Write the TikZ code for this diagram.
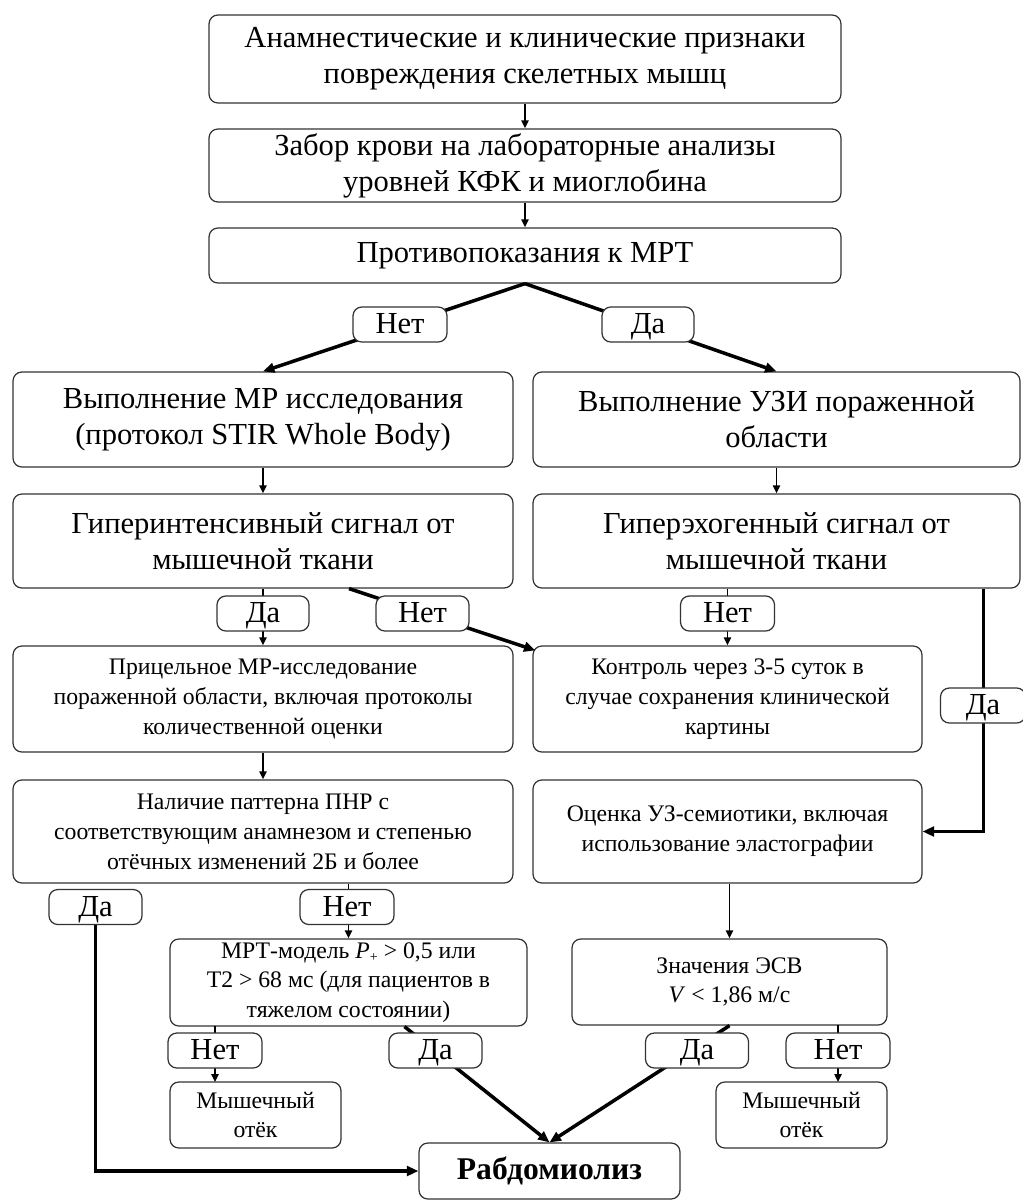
\documentclass[tikz,border=0pt]{standalone}
\usepackage{fontspec}
\setmainfont{Liberation Serif}
\usetikzlibrary{arrows.meta,calc}
\begin{document}
\begin{tikzpicture}[x=0.02cm,y=-0.02cm,
  box/.style={draw=black!80, rounded corners=5pt, line width=0.7pt, align=center, inner sep=0pt, fill=white},
  bigtxt/.style={font=\fontsize{17.4}{20.4}\selectfont},
  smalltxt/.style={font=\fontsize{13.5}{17}\selectfont},
  lbl/.style={box, bigtxt, minimum height=0.7cm, text height=11pt, text depth=0.5pt},
  thinarr/.style={draw=black, line width=1.1pt, -{Triangle[length=4.5pt,width=4pt]}},
  thickarr/.style={draw=black, line width=2pt, -{Triangle[length=6.5pt,width=5.5pt]}}
]
\useasboundingbox (0,0) rectangle (1022,1200);

% main boxes
\node[box,bigtxt,minimum width=12.64cm,minimum height=1.76cm] (b1) at (525,59)
  {Анамнестические и клинические признаки\\повреждения скелетных мышц};
\node[box,bigtxt,minimum width=12.64cm,minimum height=1.46cm] (b2) at (525,165.5)
  {Забор крови на лабораторные анализы\\уровней КФК и миоглобина};
\node[box,bigtxt,minimum width=12.64cm,minimum height=1.1cm] (b3) at (525,255.5)
  {Противопоказания к МРТ};
\node[box,bigtxt,minimum width=10cm,minimum height=1.9cm] (b4L) at (263,419.5)
  {Выполнение МР исследования\\(протокол STIR Whole Body)};
\node[box,bigtxt,minimum width=9.74cm,minimum height=1.9cm] (b4R) at (776.5,419.5)
  {Выполнение УЗИ пораженной\\области};
\node[box,bigtxt,minimum width=10cm,minimum height=1.88cm] (b5L) at (263,541)
  {Гиперинтенсивный сигнал от\\мышечной ткани};
\node[box,bigtxt,minimum width=9.74cm,minimum height=1.88cm] (b5R) at (776.5,541)
  {Гиперэхогенный сигнал от\\мышечной ткани};
\node[box,smalltxt,minimum width=10cm,minimum height=2.12cm] (b6L) at (263,699)
  {Прицельное МР-исследование\\пораженной области, включая протоколы\\количественной оценки};
\node[box,smalltxt,minimum width=7.78cm,minimum height=2.12cm] (b6R) at (727.5,699)
  {Контроль через 3-5 суток в\\случае сохранения клинической\\картины};
\node[box,smalltxt,minimum width=10cm,minimum height=2.06cm] (b7L) at (263,831.5)
  {Наличие паттерна ПНР с\\соответствующим анамнезом и степенью\\отёчных изменений 2Б и более};
\node[box,smalltxt,minimum width=7.78cm,minimum height=2.06cm] (b7R) at (727.5,831.5)
  {Оценка УЗ-семиотики, включая\\использование эластографии};
\node[box,smalltxt,minimum width=7.14cm,minimum height=1.74cm] (b8L) at (348.5,982.5)
  {МРТ-модель \textit{P}\raisebox{-0.35ex}{\footnotesize +} > 0,5 или\\Т2 > 68 мс (для пациентов в\\тяжелом состоянии)};
\node[box,smalltxt,minimum width=6.3cm,minimum height=1.72cm] (b8R) at (729.5,982)
  {Значения ЭСВ\\\textit{V} < 1,86 м/с};
\node[box,smalltxt,minimum width=3.42cm,minimum height=1.32cm] (b9L) at (255.5,1115)
  {Мышечный\\отёк};
\node[box,smalltxt,minimum width=3.42cm,minimum height=1.32cm] (b9R) at (801.5,1115)
  {Мышечный\\отёк};
\node[box,font=\fontsize{18}{20}\selectfont,minimum width=5.22cm,minimum height=1.12cm] (b10) at (549.5,1171)
  {\textbf{Рабдомиолиз}};

% helper coordinates
\coordinate (n5L) at ($(b5L.south)+(86,0)$);
\coordinate (t6R) at ($(b6R.north west)+(3,5)$);
\coordinate (vR) at ($(b5R.south east)+(-37,0)$);
\coordinate (s8L) at ($(b8L.south)+(56,0)$);
\coordinate (s9L) at (215,1026);
\coordinate (e9L) at (215,1082);
\coordinate (s9R) at (838,1025);
\coordinate (e9R) at (838,1082);

% connectors
\draw[thinarr] (b1.south) -- (b2.north);
\draw[thinarr] (b2.south) -- (b3.north);
\draw[thickarr] (b3.south) -- (b4L.north);
\draw[thickarr] (b3.south) -- (b4R.north);
\draw[thinarr] (b4L.south) -- (b5L.north);
\draw[thinarr] (b4R.south) -- (b5R.north);
\draw[thinarr] (b5L.south) -- (b6L.north);
\draw[thickarr] (n5L) -- (t6R);
\draw[thinarr] (b6R.north |- b5R.south) -- (b6R.north);
\draw[thickarr] (vR) |- (b7R.east);
\draw[thinarr] (b6L.south) -- (b7L.north);
\draw[thinarr] (b8L.north |- b7L.south) -- (b8L.north);
\draw[thinarr] (b8R.north |- b7R.south) -- (b8R.north);
\draw[thinarr] (s9L) -- (e9L);
\draw[thinarr] (s9R) -- (e9R);
\draw[thickarr] (s8L) -- (b10.north);
\draw[thickarr] (b8R.south) -- (b10.north);

% labels
\node[lbl,minimum width=1.88cm] (l1) at (400,324.5) {Нет};
\node[lbl,minimum width=1.84cm] (l2) at (648,324.5) {Да};
\node[lbl,minimum width=1.84cm] (l3) at (263,613.5) {Да};
\node[lbl,minimum width=1.86cm] (l4) at (422.5,613.5) {Нет};
\node[lbl,minimum width=1.88cm] (l5) at (727.5,613.5) {Нет};
\node[lbl,minimum width=1.7cm] (l6) at (983,705.5) {Да};
\node[lbl,minimum width=1.86cm] (l7) at (95.5,907) {Да};
\node[lbl,minimum width=1.88cm] (l8) at (347,907) {Нет};
\node[lbl,minimum width=1.88cm] (l9) at (215,1050.5) {Нет};
\node[lbl,minimum width=1.86cm] (l10) at (435.5,1050.5) {Да};
\node[lbl,minimum width=2.06cm] (l11) at (697,1050.5) {Да};
\node[lbl,minimum width=2.08cm] (l12) at (838,1050.5) {Нет};

\draw[thickarr] (l7.south) |- (b10.west);
\end{tikzpicture}
\end{document}
